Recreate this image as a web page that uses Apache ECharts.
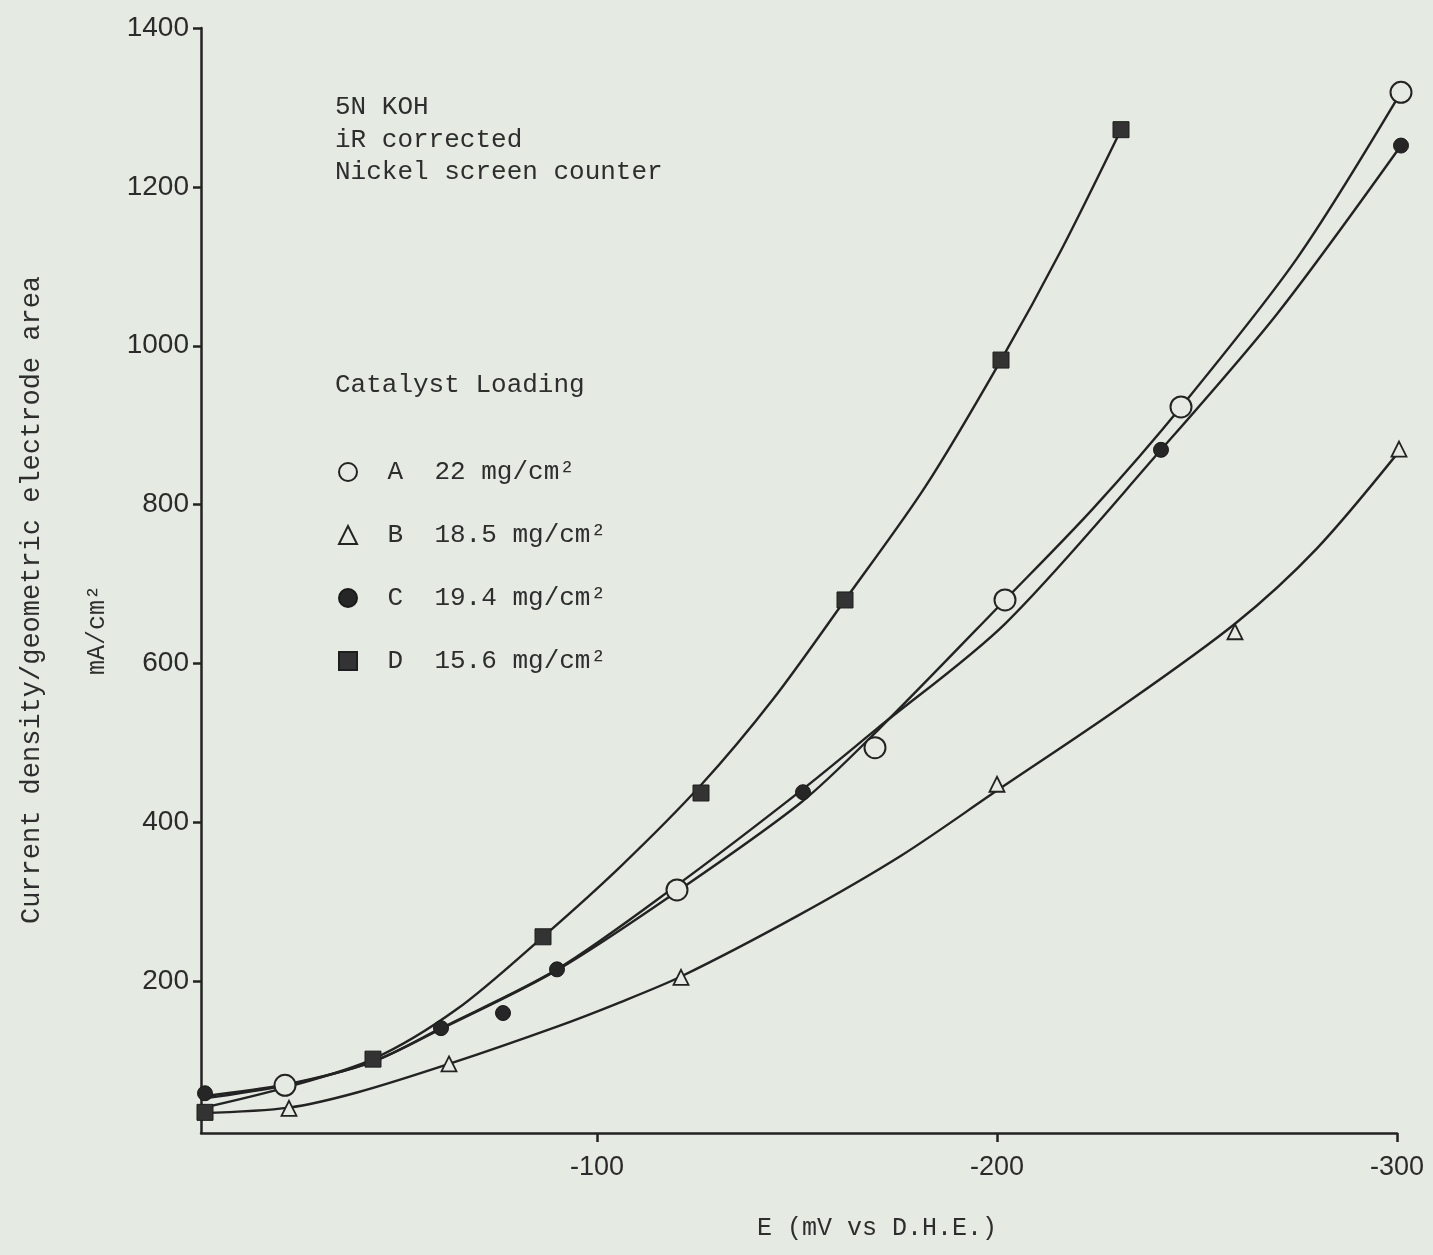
<!DOCTYPE html>
<html>
<head>
<meta charset="utf-8">
<title>Catalyst Loading</title>
<script src="https://cdn.jsdelivr.net/npm/echarts@6/dist/echarts.min.js"></script>
<style>
  html, body { margin: 0; padding: 0; background: #e5eae2; }
  #chart { width: 1433px; height: 1255px; }
</style>
</head>
<body>
<div id="chart"></div>
<script>
// 刻度
const xTicks = [-100, -200, -300]
const yTicks = [200, 400, 600, 800, 1000, 1200, 1400]

// 测量点 (E mV, mA/cm2)
const aPointsE = [-22, -120, -169.5, -202, -246, -301]
const aPointsJ = [69, 315, 494, 680, 923, 1319]
const bPointsE = [-23, -63, -121, -200, -259.5, -300.5]
const bPointsJ = [40, 96, 205, 448, 640, 870]
const cPointsE = [-2, -61, -76.5, -90, -151.5, -241, -301]
const cPointsJ = [59, 141, 160, 215, 438, 869, 1252]
const dPointsE = [-2, -44, -86.5, -126, -162, -201, -231]
const dPointsJ = [35, 102, 256, 437, 680, 982, 1272]

// 拟合曲线
const aCurveE = [-1, -22, -44, -61, -90, -120, -151, -170, -202, -224, -246, -275, -301]
const aCurveJ = [52, 69, 99, 140, 214, 313, 425, 515, 680, 795, 923, 1110, 1319]
const bCurveE = [-1, -23, -40, -63, -90, -105, -121, -150, -176, -200, -230, -259.5, -280, -301]
const bCurveJ = [34, 41, 60, 96, 143, 172, 206, 282, 358, 440, 542, 650, 745, 870]
const cCurveE = [-1, -22, -44, -61, -90, -120, -151, -170, -202, -241, -270, -301]
const cCurveJ = [55, 70, 99, 141, 215, 321, 440, 518, 650, 869, 1040, 1252]
const dCurveE = [-1, -22, -44, -65, -86.5, -106, -126, -144, -162, -182, -201, -216, -231]
const dCurveJ = [40, 66, 102, 165, 256, 345, 447, 555, 680, 822, 982, 1120, 1272]

const names = ['A  22 mg/cm²', 'B  18.5 mg/cm²', 'C  19.4 mg/cm²', 'D  15.6 mg/cm²']

const bg = '#e5eae2'
const ink = '#232323'
const mono = 'Liberation Mono'

function zip(es, js) {
  return es.map((e, i) => [e, js[i]])
}

function curve(es, js) {
  return {
    type: 'line',
    data: zip(es, js),
    smooth: 0.3,
    showSymbol: false,
    clip: false,
    z: 2,
    lineStyle: { color: ink, width: 2.4 },
    silent: true
  }
}

function marks(name, es, js, symbol, size, itemStyle) {
  return {
    name: name,
    type: 'scatter',
    data: zip(es, js),
    symbol: symbol,
    symbolSize: size,
    clip: false,
    z: 5,
    itemStyle: Object.assign({ opacity: 1 }, itemStyle)
  }
}

const myChart = echarts.init(document.getElementById('chart'))

const option = {
  backgroundColor: bg,
  animation: false,
  grid: {
    left: 201,
    right: 36,
    top: 28,
    bottom: 122,
    containLabel: false,
    outerBoundsMode: 'none'
  },
  legend: {
    orient: 'vertical',
    left: 333,
    top: 454,
    itemWidth: 18,
    itemHeight: 18,
    itemGap: 37,
    formatter: name => ' ' + name,
    textStyle: { fontFamily: mono, fontSize: 26, lineHeight: 26, color: '#2e2e2e', padding: [0, 0, 0, 10] },
    data: names
  },
  xAxis: {
    type: 'value',
    min: -300,
    max: -1,
    inverse: true,
    splitLine: { show: false },
    axisLine: { onZero: false, lineStyle: { color: ink, width: 2.5 } },
    axisTick: { customValues: xTicks, length: 9, lineStyle: { color: ink, width: 2.5 } },
    axisLabel: {
      customValues: xTicks,
      formatter: v => String(v),
      margin: 21,
      fontFamily: 'Liberation Sans',
      fontSize: 27,
      color: '#2b2b2b'
    }
  },
  yAxis: {
    type: 'value',
    min: 9,
    max: 1400,
    splitLine: { show: false },
    axisLine: { onZero: false, lineStyle: { color: ink, width: 2.5 } },
    axisTick: { customValues: yTicks, length: 8, lineStyle: { color: ink, width: 2.5 } },
    axisLabel: {
      customValues: yTicks,
      formatter: v => String(v),
      margin: 12,
      fontFamily: 'Liberation Sans',
      fontSize: 28,
      color: '#2b2b2b'
    }
  },
  graphic: [
    { type: 'text', left: 335, top: 94, style: { text: '5N KOH', font: '26px ' + mono, fill: '#2e2e2e' } },
    { type: 'text', left: 335, top: 127, style: { text: 'iR corrected', font: '26px ' + mono, fill: '#2e2e2e' } },
    { type: 'text', left: 335, top: 159, style: { text: 'Nickel screen counter', font: '26px ' + mono, fill: '#2e2e2e' } },
    { type: 'text', left: 335, top: 372, style: { text: 'Catalyst Loading', font: '26px ' + mono, fill: '#2e2e2e' } },
    {
      type: 'text', x: 877, y: 1228,
      style: { text: 'E (mV vs D.H.E.)', font: '25px ' + mono, fill: '#2e2e2e', align: 'center', verticalAlign: 'middle' }
    },
    {
      type: 'text', x: 32, y: 600, rotation: Math.PI / 2,
      style: { text: 'Current density/geometric electrode area', font: '27px ' + mono, fill: '#2e2e2e', align: 'center', verticalAlign: 'middle' }
    },
    {
      type: 'text', x: 97, y: 630, rotation: Math.PI / 2,
      style: { text: 'mA/cm²', font: '25px ' + mono, fill: '#2e2e2e', align: 'center', verticalAlign: 'middle' }
    }
  ],
  series: [
    curve(aCurveE, aCurveJ),
    curve(bCurveE, bCurveJ),
    curve(cCurveE, cCurveJ),
    curve(dCurveE, dCurveJ),
    marks(names[0], aPointsE, aPointsJ, 'circle', 21, { color: bg, borderColor: ink, borderWidth: 2 }),
    marks(names[1], bPointsE, bPointsJ, 'triangle', 15, { color: bg, borderColor: ink, borderWidth: 1.8 }),
    marks(names[2], cPointsE, cPointsJ, 'circle', 15, { color: '#262626', borderColor: '#1a1a1a', borderWidth: 1 }),
    marks(names[3], dPointsE, dPointsJ, 'rect', 16, { color: '#333', borderColor: '#1e1e1e', borderWidth: 1 })
  ]
}

myChart.setOption(option)
window.addEventListener('resize', () => {
  myChart.resize()
})
</script>
</body>
</html>
